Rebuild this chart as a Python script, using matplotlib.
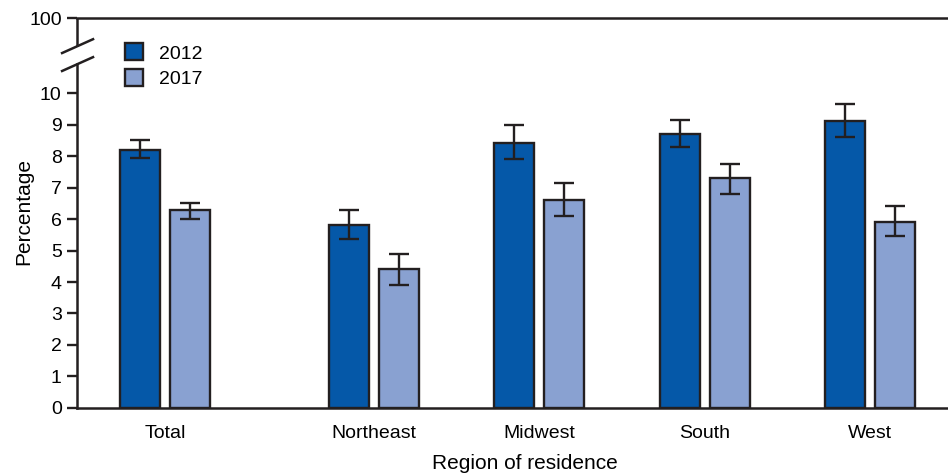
import numpy as np
import matplotlib
matplotlib.use("Agg")
import matplotlib.pyplot as plt

plt.rcParams["font.family"] = ["Liberation Sans", "DejaVu Sans"]

regions = ["Total", "Northeast", "Midwest", "South", "West"]
pct_2012 = [8.2, 5.8, 8.4, 8.7, 9.1]
low_2012 = [7.95, 5.35, 7.9, 8.3, 8.6]
high_2012 = [8.5, 6.3, 9.0, 9.15, 9.65]
pct_2017 = [6.3, 4.4, 6.6, 7.3, 5.9]
low_2017 = [6.0, 3.9, 6.1, 6.8, 5.45]
high_2017 = [6.5, 4.9, 7.15, 7.75, 6.4]

dark = "#0558a8"
light = "#89a1d1"
edge = "#231f20"

# extra gap after "Total"
x = np.arange(len(regions)) + np.array([0, 0.26, 0.26, 0.26, 0.26])
w = 0.242
off = 0.151
top = 12.38  # position standing in for 100

fig = plt.figure(figsize=(9.48, 4.76), dpi=100)
ax = fig.add_axes([0.0812, 0.1429, 1 - 0.0812, 0.962 - 0.1429])

err12 = [np.array(pct_2012) - np.array(low_2012), np.array(high_2012) - np.array(pct_2012)]
err17 = [np.array(pct_2017) - np.array(low_2017), np.array(high_2017) - np.array(pct_2017)]

ekw = dict(elinewidth=1.7, capthick=1.7, ecolor=edge)
ax.bar(x - off, pct_2012, w, color=dark, edgecolor=edge, linewidth=1.7,
       yerr=err12, capsize=7, error_kw=ekw, label="2012", zorder=2)
ax.bar(x + off, pct_2017, w, color=light, edgecolor=edge, linewidth=1.7,
       yerr=err17, capsize=7, error_kw=ekw, label="2017", zorder=2)

ax.set_xlim(-0.532, 4.73)
ax.set_ylim(0, top)

ax.set_yticks(list(range(11)) + [top])
ax.set_yticklabels([str(i) for i in range(11)] + ["100"], fontsize=14)
ax.set_xticks(x)
ax.set_xticklabels(regions, fontsize=14)
ax.tick_params(axis="x", length=0, pad=12)
ax.tick_params(axis="y", length=7, width=1.7, color=edge, pad=4)

ax.spines["right"].set_visible(False)
for s in ["left", "bottom", "top"]:
    ax.spines[s].set_linewidth(1.8)
    ax.spines[s].set_color(edge)
ax.spines["left"].set_bounds(0, 10.92)
ax.plot([-0.532, -0.532], [11.49, top], color=edge, lw=1.8, clip_on=False,
        solid_capstyle="butt")

# break slashes
ax.plot([-0.622, -0.435], [11.27, 11.71], color=edge, lw=1.8, clip_on=False)
ax.plot([-0.622, -0.435], [10.70, 11.14], color=edge, lw=1.8, clip_on=False)

ax.set_ylabel("Percentage", fontsize=15)
ax.yaxis.set_label_coords(-0.0505, 0.505)
ax.set_xlabel("Region of residence", fontsize=15)
ax.xaxis.set_label_coords(0.514, -0.118)

ax.legend(loc="upper left", bbox_to_anchor=(0.055, 0.935), frameon=False,
          fontsize=14, handlelength=0.95, handleheight=0.95, handletextpad=0.8,
          labelspacing=0.35, borderpad=0, borderaxespad=0)

fig.savefig("out.png", dpi=100)
